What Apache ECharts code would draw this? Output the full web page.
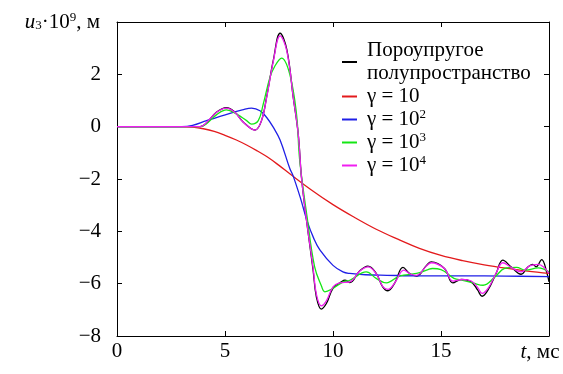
<!DOCTYPE html>
<html>
<head>
<meta charset="utf-8">
<script src="https://cdn.jsdelivr.net/npm/echarts@6/dist/echarts.min.js"></script>
<style>
  html, body { margin: 0; padding: 0; background: #fff; }
  #chart { width: 563px; height: 374px; }
</style>
</head>
<body>
<div id="chart"></div>
<script>
// time knots (ms) and displacement u3*1e9 (m)
const tPoro = [0, 3.5, 3.85, 4.1, 4.6, 5.07, 5.45, 5.85, 6.39, 6.69, 6.93, 7.24, 7.55, 7.86, 8.16, 8.39, 8.54, 8.77, 9.08, 9.23, 9.46, 9.7, 10.0, 10.39, 10.55, 10.78, 11.24, 11.62, 12.0, 12.3, 12.54, 12.85, 13.24, 13.55, 13.87, 14.33, 14.55, 15.16, 15.55, 15.93, 16.4, 16.7, 16.9, 17.17, 17.55, 17.86, 18.25, 18.71, 19.02, 19.25, 19.4, 19.66, 19.91, 20]
const uPoro = [0, 0, 0, 0.1, 0.55, 0.73, 0.56, 0.17, -0.13, 0.23, 1.15, 2.55, 3.57, 2.95, 1.12, -0.28, -1.93, -3.55, -5.49, -6.5, -6.97, -6.75, -6.18, -5.93, -5.87, -5.96, -5.51, -5.33, -5.61, -6.12, -6.27, -5.99, -5.38, -5.61, -5.71, -5.3, -5.17, -5.42, -5.97, -5.84, -5.93, -6.25, -6.48, -6.25, -5.61, -5.1, -5.36, -5.64, -5.36, -5.26, -5.36, -5.08, -5.61, -5.93]

const tG1 = [0, 3, 3.5, 4, 4.5, 5, 5.5, 6, 6.5, 7, 7.5, 8, 9, 10, 11, 12, 13, 14, 15, 16, 17, 18, 19, 20]
const uG1 = [0, 0, -0.02, -0.08, -0.18, -0.33, -0.5, -0.7, -0.93, -1.18, -1.48, -1.8, -2.42, -2.98, -3.47, -3.92, -4.3, -4.65, -4.92, -5.12, -5.28, -5.41, -5.52, -5.61]

const tG2 = [0, 3.0, 3.5, 4.15, 5.23, 5.8, 6.23, 6.62, 6.93, 7.24, 7.55, 8.0, 8.15, 8.5, 8.8, 9.1, 9.4, 10.0, 10.46, 10.78, 11.5, 12.5, 14, 16, 18, 20]
const uG2 = [0, 0, 0.05, 0.23, 0.51, 0.64, 0.71, 0.61, 0.35, -0.03, -0.51, -1.6, -1.87, -2.75, -3.6, -4.25, -4.72, -5.3, -5.55, -5.61, -5.66, -5.68, -5.7, -5.7, -5.71, -5.73]

const tG3 = [0, 3.5, 3.85, 4.1, 4.6, 5.07, 5.54, 6.0, 6.23, 6.54, 6.77, 7.08, 7.3, 7.62, 8.0, 8.31, 8.46, 8.8, 9.15, 9.47, 9.62, 10.0, 10.47, 10.78, 11.54, 12.0, 12.47, 13.08, 13.87, 14.4, 14.6, 15.0, 15.6, 16.0, 16.5, 16.95, 17.5, 17.95, 18.5, 18.9, 19.5, 20]
const uG3 = [0, 0, 0, 0.08, 0.45, 0.64, 0.48, 0.23, 0.1, 0.23, 0.86, 1.88, 2.3, 2.62, 2.0, 0.48, -1.3, -3.45, -5.36, -6.1, -6.31, -6.18, -5.93, -5.87, -5.55, -5.8, -5.97, -5.71, -5.61, -5.46, -5.42, -5.46, -5.8, -5.87, -5.98, -6.06, -5.74, -5.42, -5.38, -5.48, -5.4, -5.55]

const tG4 = [0, 3.5, 3.85, 4.07, 4.61, 5.07, 5.45, 5.85, 6.39, 6.69, 6.93, 7.24, 7.55, 7.86, 8.16, 8.39, 8.54, 8.77, 9.08, 9.23, 9.46, 9.7, 10.0, 10.3, 10.78, 11.24, 11.62, 12.0, 12.3, 12.54, 12.85, 13.28, 13.6, 13.87, 14.33, 14.55, 15.16, 15.55, 16.0, 16.4, 16.7, 16.9, 17.2, 17.55, 17.86, 18.25, 18.71, 19.1, 19.5, 19.75, 20]
const uG4 = [0, 0, 0, 0.1, 0.55, 0.71, 0.55, 0.17, -0.13, 0.23, 1.12, 2.51, 3.47, 2.9, 1.12, -0.28, -1.93, -3.55, -5.4, -6.4, -6.85, -6.65, -6.12, -5.97, -5.93, -5.52, -5.36, -5.62, -6.1, -6.22, -5.98, -5.48, -5.64, -5.68, -5.32, -5.2, -5.42, -5.9, -5.84, -5.9, -6.15, -6.37, -6.15, -5.6, -5.2, -5.38, -5.55, -5.32, -5.26, -5.36, -5.61]

const seriesNames = ['Пороупругое\nполупространство', 'γ = 10', 'γ = 10{sup|2}', 'γ = 10{sup|3}', 'γ = 10{sup|4}']
const seriesColors = ['#000000', '#e31a1c', '#1f1fe6', '#14e614', '#f01ef0']

const xMin = 0, xMax = 20, xStep = 5
const yMin = -8, yMax = 4, yStep = 2

const FONT = 'Liberation Serif'
const FS = 21
const pairs = (t, u) => t.map((v, i) => [v, u[i]])
const minus = v => String(v).replace('-', '\u2212')

const chart = echarts.init(document.getElementById('chart'))

const axisLine = { show: true, onZero: false, lineStyle: { color: '#000', width: 1 } }
const axisTick = { show: true, inside: true, length: 5, lineStyle: { color: '#000', width: 1 } }
const plain = { fontFamily: FONT, fontWeight: 'normal', fontStyle: 'normal', fontSize: FS, color: '#000' }
const sup = { fontFamily: FONT, fontWeight: 'normal', fontSize: 13, color: '#000', verticalAlign: 'top', padding: [0, 0, 7, 0] }
const sub = { fontFamily: FONT, fontWeight: 'normal', fontSize: 13, color: '#000', verticalAlign: 'bottom', padding: [7, 0, 0, 0] }
const ital = { fontFamily: FONT, fontWeight: 'normal', fontStyle: 'italic', fontSize: FS, color: '#000' }

const lines = [pairs(tPoro, uPoro), pairs(tG1, uG1), pairs(tG2, uG2), pairs(tG3, uG3), pairs(tG4, uG4)]

chart.setOption({
    animation: false,
    grid: { left: 117, right: 14, top: 22, bottom: 38, containLabel: false },
    legend: {
        left: 342,
        top: 39,
        orient: 'vertical',
        padding: 0,
        itemGap: 0,
        itemWidth: 15,
        itemHeight: 2,
        icon: 'rect',
        data: seriesNames,
        textStyle: Object.assign({}, plain, {
            lineHeight: 23,
            padding: [0, 0, 0, 5],
            rich: { sup: Object.assign({}, sup, { lineHeight: 23 }) }
        })
    },
    xAxis: [
        {
            type: 'value', min: xMin, max: xMax, interval: xStep,
            axisLine, axisTick, splitLine: { show: false },
            axisLabel: Object.assign({}, plain, { margin: 5, showMaxLabel: false, formatter: minus }),
            name: '{i|t}, мс',
            nameLocation: 'end',
            nameGap: -9,
            nameTextStyle: Object.assign({}, plain, {
                align: 'center', verticalAlign: 'top', padding: [6, 0, 0, 0],
                rich: { i: ital }
            })
        },
        {
            type: 'value', position: 'top', min: xMin, max: xMax, interval: xStep,
            axisLine, axisTick, splitLine: { show: false }, axisLabel: { show: false }
        }
    ],
    yAxis: [
        {
            type: 'value', min: yMin, max: yMax, interval: yStep,
            axisLine, axisTick, splitLine: { show: false },
            axisLabel: Object.assign({}, plain, { margin: 16, showMaxLabel: false, formatter: minus }),
            name: '{i|u}{sub|3}·10{sup|9}, м',
            nameLocation: 'end',
            nameGap: 0,
            nameTextStyle: Object.assign({}, plain, {
                align: 'right', verticalAlign: 'middle', padding: [0, 17, 0, 0],
                rich: { i: ital, sub, sup }
            })
        },
        {
            type: 'value', position: 'right', min: yMin, max: yMax, interval: yStep,
            axisLine, axisTick, splitLine: { show: false }, axisLabel: { show: false }
        }
    ],
    series: lines.map((data, i) => ({
        name: seriesNames[i],
        type: 'line',
        data,
        smooth: 0.4,
        symbol: 'none',
        color: seriesColors[i],
        lineStyle: { color: seriesColors[i], width: 1.3 },
        z: 2 + i
    }))
})
</script>
</body>
</html>
